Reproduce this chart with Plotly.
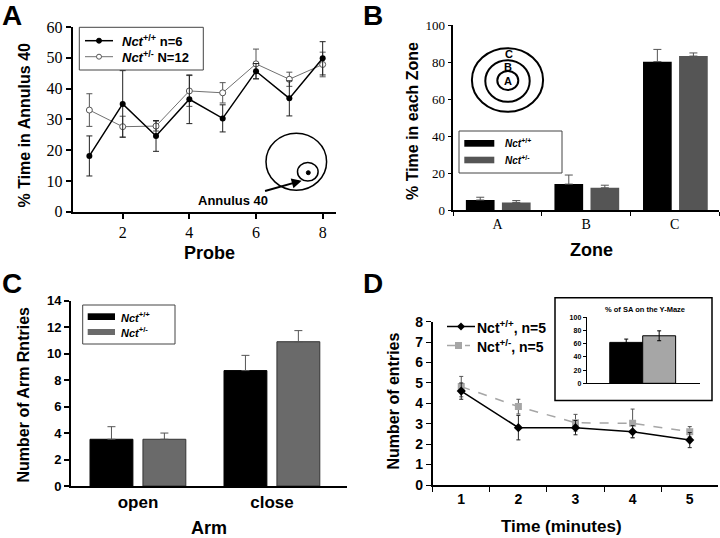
import plotly.graph_objects as go

W, H = 720, 538
def px(x): return x / W
def py(y): return 1 - y / H

# ---------------- data ----------------
# Panel A
probe = [1, 2, 3, 4, 5, 6, 7, 8]
a_wt = [18.1, 35.0, 24.6, 36.5, 30.3, 45.6, 36.8, 49.8]
a_wt_err = [6.5, 10.8, 5.0, 7.9, 4.4, 2.5, 5.7, 5.4]
a_het = [33.0, 27.6, 27.8, 39.2, 38.6, 48.0, 43.0, 47.8]
a_het_err = [5.3, 3.4, 1.6, 5.0, 3.3, 4.8, 2.3, 4.0]
a_xticks = [2, 4, 6, 8]
a_yticks = [0, 10, 20, 30, 40, 50, 60]

# Panel B
zones = ["A", "B", "C"]
b_wt = [5.4, 14.0, 80.2]
b_wt_err = [1.5, 4.9, 6.6]
b_het = [4.1, 12.0, 83.2]
b_het_err = [1.0, 1.4, 1.7]
b_yticks = [0, 20, 40, 60, 80, 100]

# Panel C
arms = ["open", "close"]
c_wt = [3.53, 8.72]
c_wt_err = [0.95, 1.15]
c_het = [3.53, 10.9]
c_het_err = [0.47, 0.84]
c_yticks = [0, 2, 4, 6, 8, 10, 12, 14]

# Panel D
minutes = ["1", "2", "3", "4", "5"]
d_wt = [4.6, 2.81, 2.81, 2.61, 2.2]
d_wt_err = [0.4, 0.6, 0.35, 0.3, 0.37]
d_het = [4.82, 3.84, 3.05, 3.02, 2.61]
d_het_err = [0.5, 0.36, 0.41, 0.7, 0.25]
d_yticks = [0, 1, 2, 3, 4, 5, 6, 7, 8]

# Inset (% SA on Y-maze)
sa_pos = [1, 2]
sa_vals = [62, 72]
sa_err = [5, 7.5]
sa_yticks = [0, 20, 40, 60, 80, 100]

BLACK = "#000000"
DGRAY = "#555555"
CGRAY = "#6a6a6a"
LGRAY = "#a6a6a6"

fig = go.Figure()

# ---- A ----
fig.add_trace(go.Scatter(
    x=probe, y=a_het, mode="lines+markers", xaxis="x", yaxis="y",
    line=dict(color="#707070", width=1),
    marker=dict(symbol="circle", size=6, color="white", line=dict(color="#555555", width=1)),
    error_y=dict(type="data", array=a_het_err, color="#555555", thickness=1, width=3),
    showlegend=False))
fig.add_trace(go.Scatter(
    x=probe, y=a_wt, mode="lines+markers", xaxis="x", yaxis="y",
    line=dict(color=BLACK, width=1.5),
    marker=dict(symbol="circle", size=6, color=BLACK),
    error_y=dict(type="data", array=a_wt_err, color="#222222", thickness=1, width=3),
    showlegend=False))

# ---- B ----
fig.add_trace(go.Bar(
    x=zones, y=b_wt, xaxis="x2", yaxis="y2", width=0.324, offset=-0.358,
    marker=dict(color=BLACK, line=dict(width=0)),
    error_y=dict(type="data", array=b_wt_err, arrayminus=[0, 0, 0], symmetric=False,
                 color=DGRAY, thickness=1, width=4),
    showlegend=False))
fig.add_trace(go.Bar(
    x=zones, y=b_het, xaxis="x2", yaxis="y2", width=0.324, offset=0.049,
    marker=dict(color=DGRAY, line=dict(width=0)),
    error_y=dict(type="data", array=b_het_err, arrayminus=[0, 0, 0], symmetric=False,
                 color=DGRAY, thickness=1, width=4),
    showlegend=False))

# ---- C ----
fig.add_trace(go.Bar(
    x=arms, y=c_wt, xaxis="x3", yaxis="y3", width=0.32, offset=-0.358,
    marker=dict(color=BLACK, line=dict(color=BLACK, width=1)),
    error_y=dict(type="data", array=c_wt_err, arrayminus=[0, 0], symmetric=False,
                 color="#555555", thickness=1, width=4),
    showlegend=False))
fig.add_trace(go.Bar(
    x=arms, y=c_het, xaxis="x3", yaxis="y3", width=0.32, offset=0.037,
    marker=dict(color=CGRAY, line=dict(color="#333333", width=1)),
    error_y=dict(type="data", array=c_het_err, arrayminus=[0, 0], symmetric=False,
                 color="#555555", thickness=1, width=4),
    showlegend=False))

# ---- D ----
fig.add_trace(go.Scatter(
    x=minutes, y=d_het, mode="lines+markers", xaxis="x4", yaxis="y4",
    line=dict(color=LGRAY, width=1.5, dash="dash"),
    marker=dict(symbol="square", size=7, color=LGRAY),
    error_y=dict(type="data", array=d_het_err, color="#555555", thickness=1, width=2),
    showlegend=False))
fig.add_trace(go.Scatter(
    x=minutes, y=d_wt, mode="lines+markers", xaxis="x4", yaxis="y4",
    line=dict(color=BLACK, width=1.5),
    marker=dict(symbol="diamond", size=7, color=BLACK),
    error_y=dict(type="data", array=d_wt_err, color="#222222", thickness=1, width=2),
    showlegend=False))

# ---- inset ----
fig.add_trace(go.Bar(
    x=sa_pos, y=sa_vals, xaxis="x5", yaxis="y5", width=1,
    marker=dict(color=[BLACK, LGRAY], line=dict(color=BLACK, width=1)),
    error_y=dict(type="data", array=sa_err, color=BLACK, thickness=1, width=2),
    showlegend=False))

axis_common = dict(showline=True, linecolor=BLACK, showgrid=False, zeroline=False,
                   ticks="outside", tickcolor=BLACK, automargin=False)

serif = "Liberation Serif"
sans = "Liberation Sans"

fig.update_layout(
    template="none",
    width=W, height=H, margin=dict(l=0, r=0, t=0, b=0, pad=0, autoexpand=False),
    paper_bgcolor="white", plot_bgcolor="white",
    barmode="group", showlegend=False,
    xaxis=dict(domain=[px(72.7), px(336)], range=[0.5, 8.4], anchor="y",
               tickvals=a_xticks, ticklen=5, tickwidth=1.5, linewidth=2,
               tickfont=dict(family=serif, size=16, color=BLACK), **axis_common),
    yaxis=dict(domain=[py(211.7), py(26.9)], range=[0, 60], anchor="x",
               tickvals=a_yticks, ticklen=5, tickwidth=1.5, linewidth=2,
               tickfont=dict(family=serif, size=16, color=BLACK), **axis_common),
    xaxis2=dict(domain=[px(453.3), px(719)], range=[-0.5, 2.5], anchor="y2",
                type="category", categoryorder="array", categoryarray=zones,
                tickson="boundaries", ticklen=4, tickwidth=1, linewidth=1.5,
                tickfont=dict(family=serif, size=14, color=BLACK), **axis_common),
    yaxis2=dict(domain=[py(210), py(25)], range=[0, 100], anchor="x2",
                tickvals=b_yticks, ticklen=4, tickwidth=1, linewidth=1.5,
                tickfont=dict(family=serif, size=13, color=BLACK), **axis_common),
    xaxis3=dict(domain=[px(71), px(347)], range=[-0.5, 1.56], anchor="y3",
                type="category", categoryorder="array", categoryarray=arms,
                ticks="", linewidth=2, showline=True, linecolor=BLACK, showgrid=False,
                zeroline=False, automargin=False,
                tickfont=dict(family=sans, size=17, color=BLACK, weight="bold")),
    yaxis3=dict(domain=[py(486), py(300.7)], range=[0, 14], anchor="x3",
                tickvals=c_yticks, ticklen=5, tickwidth=1.5, linewidth=2,
                tickfont=dict(family=sans, size=13, color=BLACK, weight="bold"), **axis_common),
    xaxis4=dict(domain=[px(432.7), px(718.3)], range=[-0.5, 4.5], anchor="y4",
                type="category", categoryorder="array", categoryarray=minutes,
                tickson="boundaries", ticklen=5, tickwidth=1, linewidth=1.5,
                tickfont=dict(family=sans, size=14, color=BLACK, weight="bold"), **axis_common),
    yaxis4=dict(domain=[py(485), py(321.7)], range=[0, 8], anchor="x4",
                tickvals=d_yticks, ticklen=5, tickwidth=1, linewidth=1.5,
                tickfont=dict(family=sans, size=14, color=BLACK, weight="bold"), **axis_common),
    xaxis5=dict(domain=[px(586.7), px(700)], range=[-0.2, 3.24], anchor="y5",
                showticklabels=False, ticks="", showline=True, linecolor=BLACK, linewidth=1,
                showgrid=False, zeroline=False, automargin=False),
    yaxis5=dict(domain=[py(383.3), py(317.3)], range=[0, 100], anchor="x5",
                tickvals=sa_yticks, ticklen=3, tickwidth=1, linewidth=1,
                tickfont=dict(family=sans, size=7, color=BLACK, weight="bold"), **axis_common),
)

shapes = []
ann = []

def text(x, y, s, size, family=sans, bold=True, xanchor="center", yanchor="middle",
         angle=0, color=BLACK):
    if bold:
        s = "<b>" + s + "</b>"
    ann.append(dict(x=px(x), y=py(y), xref="paper", yref="paper", text=s, showarrow=False,
                    xanchor=xanchor, yanchor=yanchor, textangle=angle, borderpad=0,
                    font=dict(family=family, size=size, color=color)))

def rect(x0, y0, x1, y1, line_color=BLACK, fill=None, lw=1):
    shapes.append(dict(type="rect", xref="paper", yref="paper",
                       x0=px(x0), x1=px(x1), y0=py(y1), y1=py(y0),
                       line=dict(color=line_color, width=lw),
                       fillcolor=fill if fill else "rgba(0,0,0,0)"))

def hline(x0, x1, y, color=BLACK, lw=1.5, dash="solid"):
    shapes.append(dict(type="line", xref="paper", yref="paper",
                       x0=px(x0), x1=px(x1), y0=py(y), y1=py(y),
                       line=dict(color=color, width=lw, dash=dash)))

def ellipse(cx, cy, rx, ry, color=BLACK, lw=1.5, fill=None):
    shapes.append(dict(type="circle", xref="paper", yref="paper",
                       x0=px(cx - rx), x1=px(cx + rx), y0=py(cy + ry), y1=py(cy - ry),
                       line=dict(color=color, width=lw),
                       fillcolor=fill if fill else "rgba(0,0,0,0)"))

# panel letters
text(1, 15, "A", 28, xanchor="left")
text(362, 15, "B", 28, xanchor="left")
text(1, 283, "C", 28, xanchor="left")
text(362, 283.5, "D", 28, xanchor="left")

# axis titles
text(209, 253, "Probe", 18)
text(23.5, 125, "% Time in Annulus 40", 16, angle=-90)
text(591, 250, "Zone", 18)
text(412, 121, "% Time in each Zone", 16, angle=-90)
text(209, 528, "Arm", 18)
text(22.5, 395, "Number of Arm Rntries", 16, angle=-90)
text(561, 526, "Time (minutes)", 17)
text(392.5, 401, "Number of entries", 16, angle=-90)
text(645, 309.5, "% of SA on the Y-Maze", 7.5)

# legend A
rect(79.3, 27.3, 203.3, 70, line_color="#444444", lw=1)
hline(85, 113, 40.7, color=BLACK, lw=1.5)
ellipse(99, 40.7, 2.5, 2.5, lw=1, fill=BLACK)
text(120.7, 40.7, "<i>Nct</i><sup>+/+</sup> n=6", 13, xanchor="left")
hline(85, 113, 56.7, color="#707070", lw=1)
ellipse(99, 56.7, 2.5, 2.5, color="#555555", lw=1, fill="white")
text(120.7, 56.7, "<i>Nct</i><sup>+/-</sup> N=12", 13, xanchor="left")

# annulus diagram A
ellipse(296.3, 161.7, 30.3, 28.5, lw=1.5)
ellipse(307.8, 171.8, 10.3, 9.3, lw=1.5)
ellipse(308.3, 172.7, 2, 2, lw=1, fill=BLACK)
ann.append(dict(x=px(301.7), y=py(180.7), xref="paper", yref="paper",
                ax=233 - 301.7, ay=200 - 180.7, axref="pixel", ayref="pixel",
                text="<b>Annulus 40</b>", showarrow=True, arrowhead=2, arrowsize=1,
                arrowwidth=2, arrowcolor=BLACK, standoff=0,
                font=dict(family=sans, size=13, color=BLACK)))

# zone diagram B
ellipse(507.5, 80, 35.6, 31.8, lw=2)
ellipse(507.5, 81, 22.2, 20.8, lw=2)
ellipse(507.8, 80.5, 10.5, 9.5, lw=2)
text(509, 54, "C", 11)
text(507.7, 67, "B", 11)
text(508.3, 80.5, "A", 11)

# legend B
rect(459, 131, 562, 173, line_color="#444444", lw=1)
rect(464.3, 140, 494.3, 146.7, line_color=BLACK, fill=BLACK, lw=0)
rect(464.3, 156.7, 494.3, 163.3, line_color=DGRAY, fill=DGRAY, lw=0)
text(504, 143.3, "<i>Nct</i><sup>+/+</sup>", 10, xanchor="left")
text(504, 160, "<i>Nct</i><sup>+/-</sup>", 10, xanchor="left")

# legend C
rect(82.7, 305, 175, 344, line_color="#444444", lw=1)
rect(87.7, 313.3, 115, 320, line_color=BLACK, fill=BLACK, lw=0)
rect(87.7, 329, 115, 335, line_color=CGRAY, fill=CGRAY, lw=0)
text(120, 316.7, "<i>Nct</i><sup>+/+</sup>", 11, xanchor="left")
text(120, 332, "<i>Nct</i><sup>+/-</sup>", 11, xanchor="left")

# legend D
hline(447, 475, 326.5, color=BLACK, lw=1.5)
shapes.append(dict(type="path", xref="paper", yref="paper",
                   path="M %f %f L %f %f L %f %f L %f %f Z" % (
                       px(461), py(322.5), px(465), py(326.5), px(461), py(330.5), px(457), py(326.5)),
                   fillcolor=BLACK, line=dict(color=BLACK, width=0)))
hline(447, 470, 345.5, color=LGRAY, lw=1.5, dash="dash")
rect(455, 342, 462, 349, line_color=LGRAY, fill=LGRAY, lw=0)
text(476, 326.5, "Nct<sup>+/+</sup>, n=5", 14, xanchor="left")
text(476, 345.5, "Nct<sup>+/-</sup>, n=5", 14, xanchor="left")

# inset frame
rect(555, 297.7, 712, 400.5, line_color=BLACK, lw=1.5)

fig.update_layout(shapes=shapes, annotations=ann)
fig.write_html("out.html", config={"displayModeBar": False},
               post_script="document.body.style.margin='0';document.body.style.overflow='hidden';")
